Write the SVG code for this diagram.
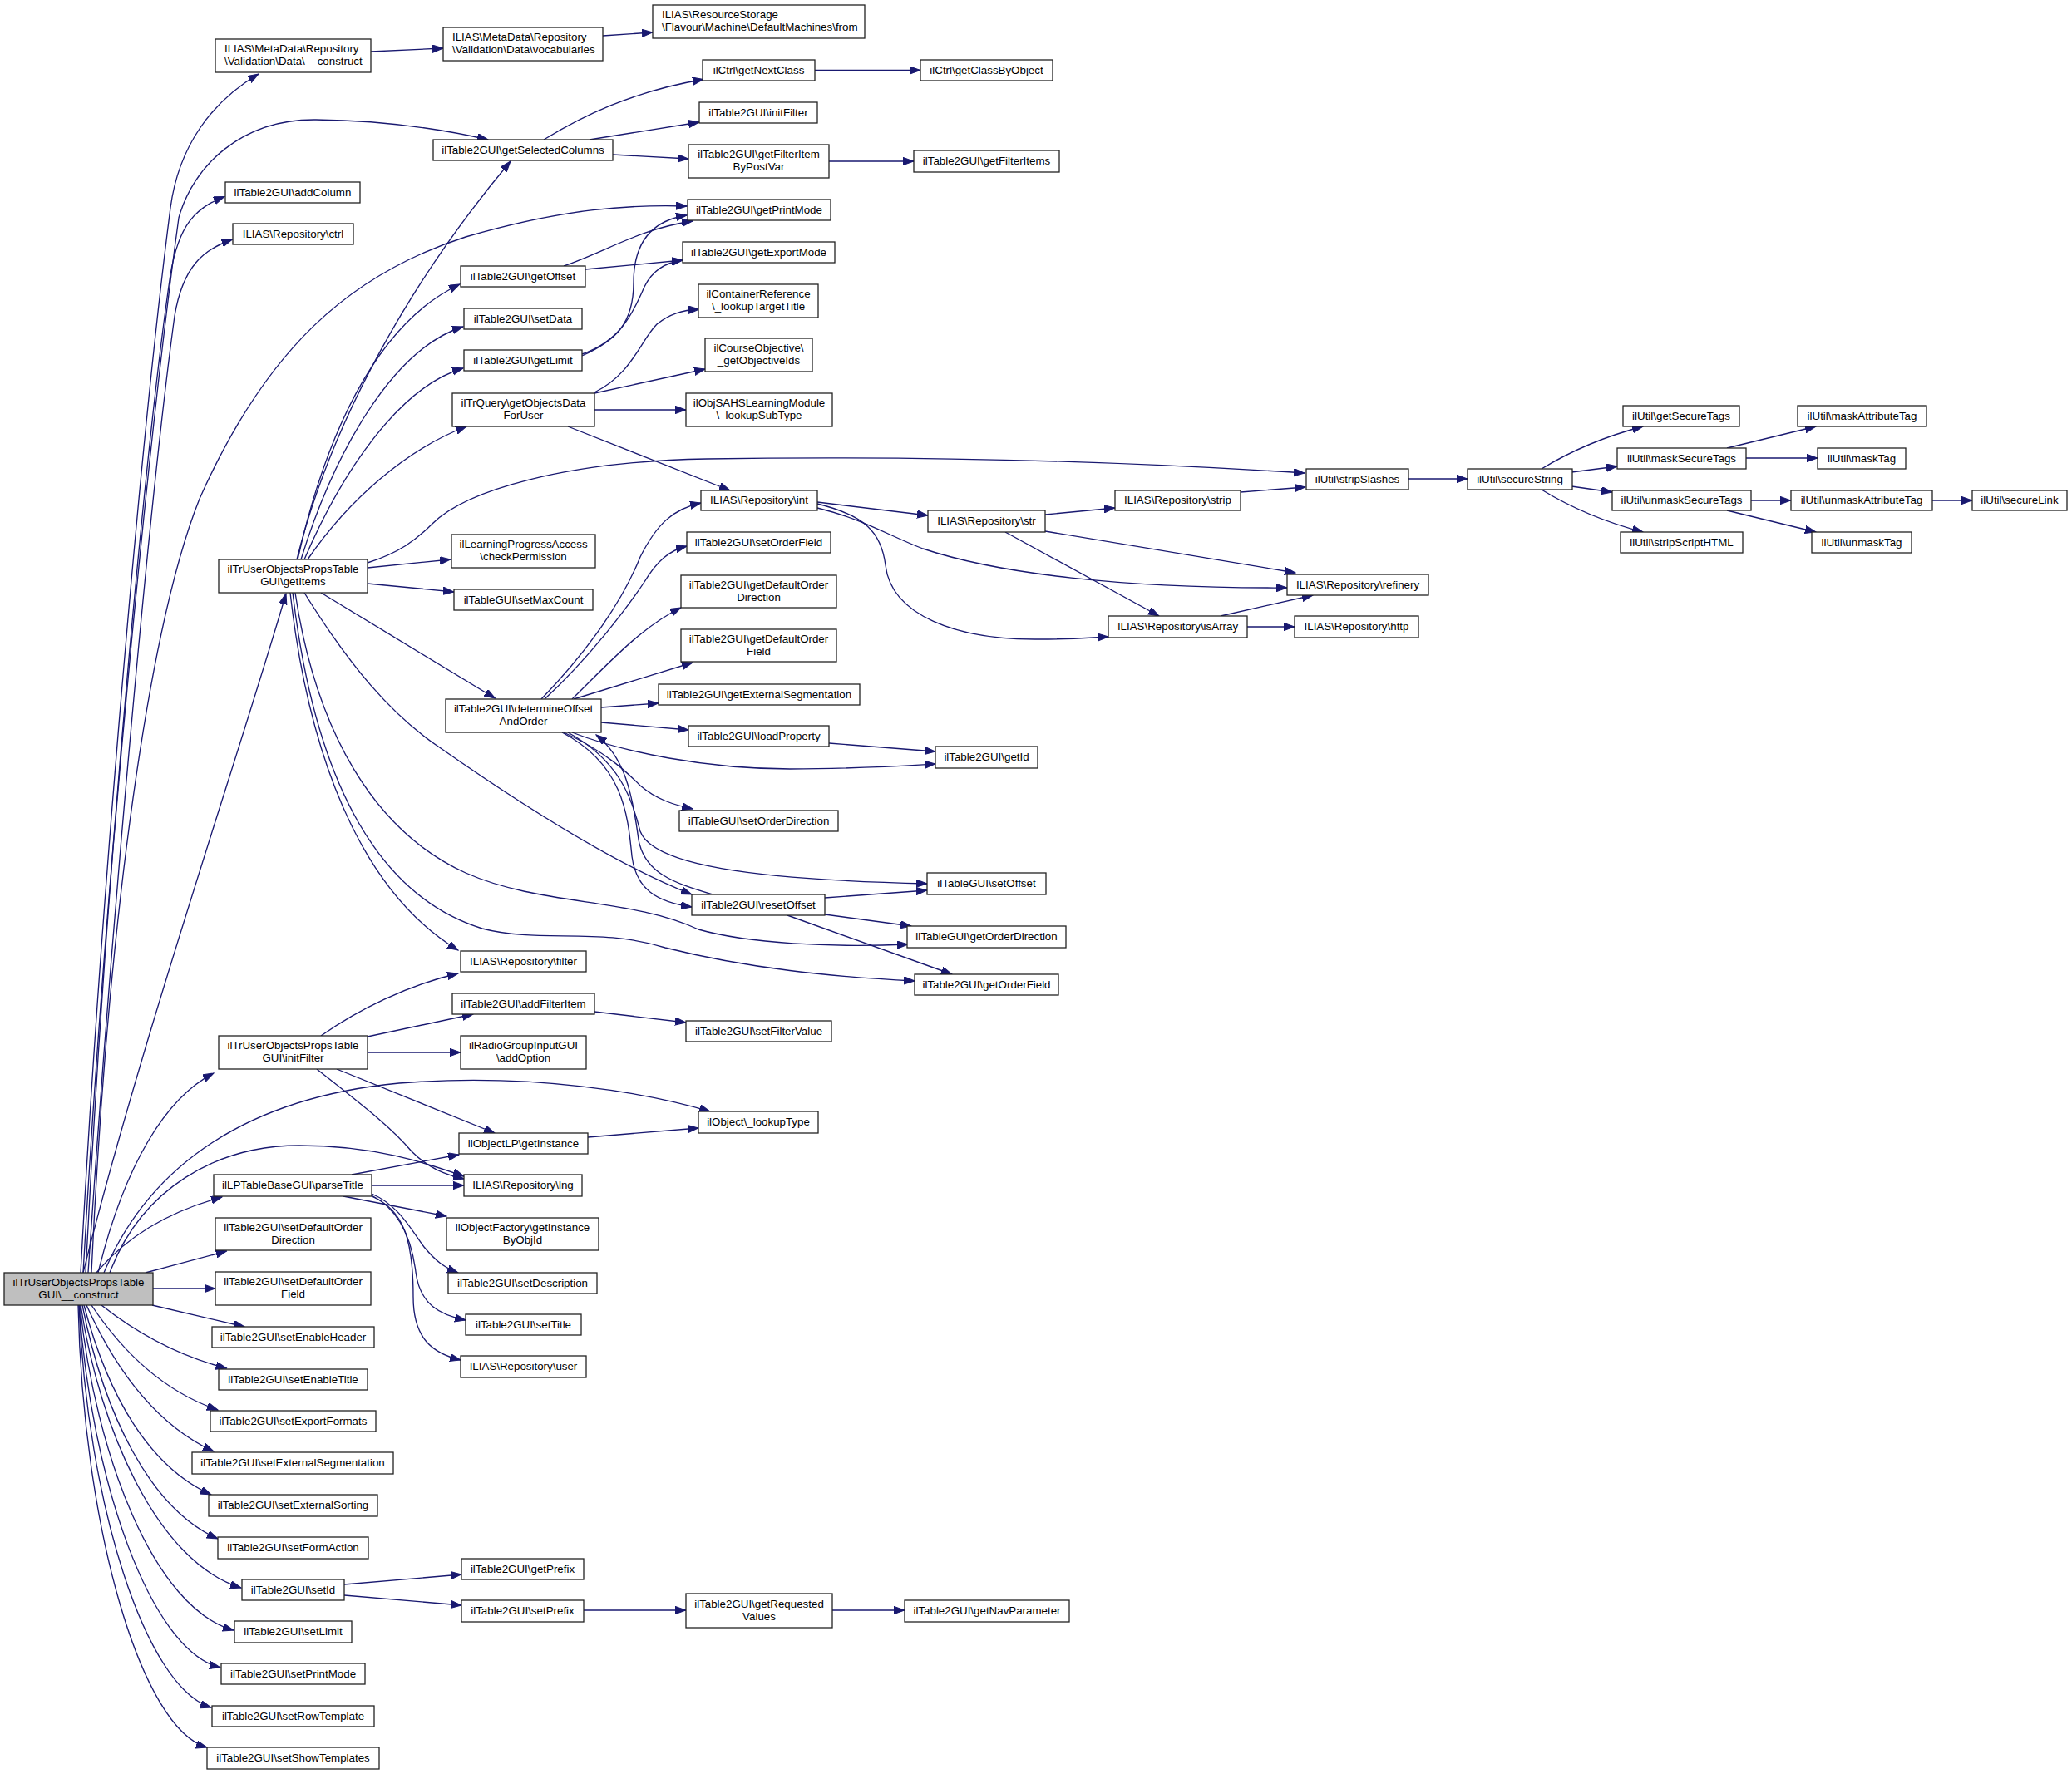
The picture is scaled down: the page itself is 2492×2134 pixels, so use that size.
<svg xmlns="http://www.w3.org/2000/svg" width="2492" height="2134" viewBox="0 0 2492 2134">
<style>
.node rect{fill:#fff;stroke:#222;stroke-width:1.3}
.node.root rect{fill:#bfbfbf}
.node text{font-family:"Liberation Sans",Arial,sans-serif;font-size:13.33px;fill:#000;text-anchor:middle}
.node text.l{text-anchor:start}
.edges path{fill:none;stroke:#191970;stroke-width:1.33;marker-end:url(#arr)}
</style>
<defs>
<marker id="arr" markerUnits="userSpaceOnUse" markerWidth="14" markerHeight="10" refX="13" refY="4.65" orient="auto">
<path d="M0,0 L13,4.65 L0,9.3 z" fill="#191970" stroke="#191970" stroke-width="1"/>
</marker>
</defs>
<rect width="2492" height="2134" fill="#fff"/>
<g class="edges">
<path d="M97,1531 C120,1100 170,520 205,250 C215,175 255,122 311,89"/>
<path d="M100,1531 C130,1000 185,480 215,262 C232,200 290,143 380,144 C460,145 530,155 587,168"/>
<path d="M103,1531 C130,1000 180,500 205,330 C215,270 235,250 270,236.5"/>
<path d="M106,1531 C135,1100 180,600 210,380 C220,320 245,300 279.5,288"/>
<path d="M110,1531 C130,1100 180,750 240,600 C320,420 420,330 560,285 C680,250 760,246 826,248"/>
<path d="M100,1531 C170,1250 290,900 344,714"/>
<path d="M118,1531 C150,1400 200,1320 257,1291"/>
<path d="M125,1531 C180,1400 300,1320 480,1303 C640,1290 780,1315 854,1337"/>
<path d="M132,1531 C170,1430 260,1378 360,1378 C450,1378 510,1398 558,1415"/>
<path d="M116,1531 C150,1490 200,1458 267,1440"/>
<path d="M175,1531 L272.6,1505"/>
<path d="M184,1550 L259,1550"/>
<path d="M183,1570 L294,1596"/>
<path d="M122,1570 C160,1600 210,1630 272.6,1646"/>
<path d="M110,1570 C150,1630 200,1675 262,1696"/>
<path d="M104,1570 C140,1650 190,1715 257,1746"/>
<path d="M101,1570 C130,1680 180,1765 254,1798"/>
<path d="M99,1570 C125,1700 180,1815 262,1851"/>
<path d="M97,1570 C120,1720 190,1880 290,1910"/>
<path d="M96,1570 C115,1750 185,1935 281,1961"/>
<path d="M95,1570 C110,1780 180,1985 265,2006"/>
<path d="M95,1570 C105,1810 175,2030 254,2054"/>
<path d="M94,1570 C100,1840 170,2080 249,2102"/>
<path d="M357,673 C400,500 500,330 614,194"/>
<path d="M358,673 C390,530 450,390 553,342"/>
<path d="M362,673 C400,550 470,420 557,393"/>
<path d="M366,673 C410,570 480,465 557,443"/>
<path d="M370,673 C420,600 490,540 561,513"/>
<path d="M442,677 C480,665 500,650 520,630 C560,590 680,555 850,552 C1100,548 1350,555 1569,569"/>
<path d="M442,683 L542,673"/>
<path d="M442,702 L546,712"/>
<path d="M386,713 L595.5,840"/>
<path d="M366,713 C420,800 470,860 530,900 C630,970 740,1040 832,1076"/>
<path d="M355,713 C380,880 450,1000 560,1050 C650,1090 760,1080 840,1118 C900,1135 1000,1140 1092,1136"/>
<path d="M352,713 C380,950 460,1080 580,1117 C650,1135 720,1115 800,1140 C900,1165 1000,1175 1100,1180"/>
<path d="M349,713 C370,900 430,1070 551,1143"/>
<path d="M678,320 C730,302 770,275 833,266"/>
<path d="M704,324 L821,313"/>
<path d="M700,428 C740,410 762,390 762,340 C762,290 785,265 826,259"/>
<path d="M700,426 C745,410 760,380 775,345 C785,325 800,316 821,313"/>
<path d="M715,472 C760,450 770,410 790,390 C805,378 820,373 841,372"/>
<path d="M715,473 L848,444"/>
<path d="M715,493 L825,493"/>
<path d="M683,513 L878,590"/>
<path d="M654,168 C700,140 760,110 846,95.5"/>
<path d="M709,168 L841,147"/>
<path d="M737,186 L828,191"/>
<path d="M980,84.5 L1107,84.5"/>
<path d="M997,194 L1099,194"/>
<path d="M446,62 L533,58"/>
<path d="M725,43 L785,39"/>
<path d="M983,604 L1116,620"/>
<path d="M983,611 C1040,625 1070,645 1110,660 C1200,690 1350,708 1548,707"/>
<path d="M983,606 C1040,620 1060,640 1065,680 C1072,740 1150,770 1250,769 C1290,769 1310,767 1333,766"/>
<path d="M1257,619 L1341,611"/>
<path d="M1257,639 L1558,689"/>
<path d="M1209,640 L1394,741"/>
<path d="M1492,592 L1570,586"/>
<path d="M1468,741 L1579,716"/>
<path d="M1500,754 L1557,754"/>
<path d="M1694,576 L1765,576"/>
<path d="M1854,564 C1890,542 1930,525 1976,513"/>
<path d="M1890,568 L1945,561"/>
<path d="M1890,585 L1939,592"/>
<path d="M1854,589 C1890,611 1930,628 1976,640"/>
<path d="M2077,539 L2184,513"/>
<path d="M2100,551 L2186,551"/>
<path d="M2106,602 L2154,602"/>
<path d="M2077,614 L2184,640"/>
<path d="M2324,602 L2372,602"/>
<path d="M651,841 C710,780 750,720 770,670 C790,630 810,612 843,605"/>
<path d="M655,841 C710,790 755,730 775,700 C790,675 805,662 826,657"/>
<path d="M688,841 C730,800 770,755 819,731"/>
<path d="M690,841 L833,797"/>
<path d="M723,851 L792,846"/>
<path d="M723,869 L828,878"/>
<path d="M688,881 C750,905 850,925 950,925 C1030,925 1090,921 1125,919"/>
<path d="M678,881 C730,905 755,930 770,945 C790,962 810,968 833,973"/>
<path d="M683,881 C745,915 760,960 770,1000 C785,1040 900,1058 1115,1063"/>
<path d="M676,881 C750,920 755,980 760,1030 C765,1070 790,1085 832,1091"/>
<path d="M857,1076 C810,1062 775,1050 768,1010 C760,950 750,910 717,884"/>
<path d="M992,1080 L1115,1071"/>
<path d="M992,1100 L1096,1114"/>
<path d="M947,1101 L1145,1172"/>
<path d="M997,894 L1125,904"/>
<path d="M386,1246 C430,1215 490,1185 551,1171"/>
<path d="M442,1247 L569,1220"/>
<path d="M442,1266 L554,1266"/>
<path d="M405,1286 L595,1363"/>
<path d="M381,1286 C430,1325 470,1355 495,1385 C515,1405 535,1413 558,1418"/>
<path d="M715,1217 L825,1230"/>
<path d="M707,1368 L840,1357"/>
<path d="M423,1413 L552,1389"/>
<path d="M447,1426 L558,1426"/>
<path d="M413,1439 L537,1463"/>
<path d="M447,1436 C480,1450 495,1480 510,1500 C525,1518 535,1525 551,1531"/>
<path d="M447,1438 C480,1455 495,1490 500,1530 C505,1570 530,1582 560,1588"/>
<path d="M447,1439 C485,1455 497,1490 497,1560 C497,1610 520,1628 554,1636"/>
<path d="M414,1906 L555,1894"/>
<path d="M414,1919 L555,1931"/>
<path d="M702,1937 L825,1937"/>
<path d="M1001,1937 L1088,1937"/>
</g>
<g id="n0" class="node root"><rect x="5" y="1531" width="179" height="39"/><text x="94.5" y="1546.5">ilTrUserObjectsPropsTable</text><text x="94.5" y="1561.5">GUI\__construct</text></g>
<g id="n1" class="node"><rect x="259" y="47" width="187" height="40"/><text class="l" x="270" y="63">ILIAS\MetaData\Repository</text><text class="l" x="270" y="78">\Validation\Data\__construct</text></g>
<g id="n2" class="node"><rect x="271" y="219" width="162" height="25"/><text x="352" y="235.5">ilTable2GUI\addColumn</text></g>
<g id="n3" class="node"><rect x="280" y="269" width="145" height="25"/><text x="352.5" y="285.5">ILIAS\Repository\ctrl</text></g>
<g id="n4" class="node"><rect x="263" y="673" width="179" height="40"/><text x="352.5" y="689">ilTrUserObjectsPropsTable</text><text x="352.5" y="704">GUI\getItems</text></g>
<g id="n5" class="node"><rect x="263" y="1246" width="179" height="40"/><text x="352.5" y="1262">ilTrUserObjectsPropsTable</text><text x="352.5" y="1277">GUI\initFilter</text></g>
<g id="n6" class="node"><rect x="257" y="1413" width="190" height="26"/><text x="352" y="1430">ilLPTableBaseGUI\parseTitle</text></g>
<g id="n7" class="node"><rect x="259" y="1465" width="187" height="39"/><text x="352.5" y="1480.5">ilTable2GUI\setDefaultOrder</text><text x="352.5" y="1495.5">Direction</text></g>
<g id="n8" class="node"><rect x="259" y="1530" width="187" height="40"/><text x="352.5" y="1546">ilTable2GUI\setDefaultOrder</text><text x="352.5" y="1561">Field</text></g>
<g id="n9" class="node"><rect x="255" y="1596" width="195" height="25"/><text x="352.5" y="1612.5">ilTable2GUI\setEnableHeader</text></g>
<g id="n10" class="node"><rect x="263" y="1647" width="179" height="25"/><text x="352.5" y="1663.5">ilTable2GUI\setEnableTitle</text></g>
<g id="n11" class="node"><rect x="253" y="1697" width="199" height="25"/><text x="352.5" y="1713.5">ilTable2GUI\setExportFormats</text></g>
<g id="n12" class="node"><rect x="231" y="1747" width="242" height="26"/><text x="352" y="1764">ilTable2GUI\setExternalSegmentation</text></g>
<g id="n13" class="node"><rect x="251" y="1798" width="203" height="26"/><text x="352.5" y="1815">ilTable2GUI\setExternalSorting</text></g>
<g id="n14" class="node"><rect x="262" y="1849" width="181" height="26"/><text x="352.5" y="1866">ilTable2GUI\setFormAction</text></g>
<g id="n15" class="node"><rect x="291" y="1900" width="123" height="25"/><text x="352.5" y="1916.5">ilTable2GUI\setId</text></g>
<g id="n16" class="node"><rect x="282" y="1950" width="141" height="26"/><text x="352.5" y="1967">ilTable2GUI\setLimit</text></g>
<g id="n17" class="node"><rect x="266" y="2001" width="173" height="25"/><text x="352.5" y="2017.5">ilTable2GUI\setPrintMode</text></g>
<g id="n18" class="node"><rect x="255" y="2052" width="195" height="25"/><text x="352.5" y="2068.5">ilTable2GUI\setRowTemplate</text></g>
<g id="n19" class="node"><rect x="249" y="2102" width="207" height="26"/><text x="352.5" y="2119">ilTable2GUI\setShowTemplates</text></g>
<g id="n20" class="node"><rect x="533" y="33" width="192" height="40"/><text class="l" x="544" y="49">ILIAS\MetaData\Repository</text><text class="l" x="544" y="64">\Validation\Data\vocabularies</text></g>
<g id="n21" class="node"><rect x="521" y="168" width="216" height="25"/><text x="629" y="184.5">ilTable2GUI\getSelectedColumns</text></g>
<g id="n22" class="node"><rect x="554" y="320" width="150" height="25"/><text x="629" y="336.5">ilTable2GUI\getOffset</text></g>
<g id="n23" class="node"><rect x="558" y="371" width="142" height="25"/><text x="629" y="387.5">ilTable2GUI\setData</text></g>
<g id="n24" class="node"><rect x="558" y="421" width="142" height="25"/><text x="629" y="437.5">ilTable2GUI\getLimit</text></g>
<g id="n25" class="node"><rect x="544" y="473" width="171" height="40"/><text x="629.5" y="489">ilTrQuery\getObjectsData</text><text x="629.5" y="504">ForUser</text></g>
<g id="n26" class="node"><rect x="543" y="643" width="173" height="40"/><text x="629.5" y="659">ilLearningProgressAccess</text><text x="629.5" y="674">\checkPermission</text></g>
<g id="n27" class="node"><rect x="546" y="709" width="167" height="25"/><text x="629.5" y="725.5">ilTableGUI\setMaxCount</text></g>
<g id="n28" class="node"><rect x="536" y="841" width="187" height="40"/><text x="629.5" y="857">ilTable2GUI\determineOffset</text><text x="629.5" y="872">AndOrder</text></g>
<g id="n29" class="node"><rect x="554" y="1144" width="151" height="25"/><text x="629.5" y="1160.5">ILIAS\Repository\filter</text></g>
<g id="n30" class="node"><rect x="544" y="1195" width="171" height="25"/><text x="629.5" y="1211.5">ilTable2GUI\addFilterItem</text></g>
<g id="n31" class="node"><rect x="554" y="1246" width="151" height="40"/><text x="629.5" y="1262">ilRadioGroupInputGUI</text><text x="629.5" y="1277">\addOption</text></g>
<g id="n32" class="node"><rect x="552" y="1363" width="155" height="25"/><text x="629.5" y="1379.5">ilObjectLP\getInstance</text></g>
<g id="n33" class="node"><rect x="558" y="1413" width="142" height="26"/><text x="629" y="1430">ILIAS\Repository\lng</text></g>
<g id="n34" class="node"><rect x="537" y="1465" width="183" height="39"/><text x="628.5" y="1480.5">ilObjectFactory\getInstance</text><text x="628.5" y="1495.5">ByObjId</text></g>
<g id="n35" class="node"><rect x="539" y="1531" width="179" height="25"/><text x="628.5" y="1547.5">ilTable2GUI\setDescription</text></g>
<g id="n36" class="node"><rect x="560" y="1581" width="139" height="25"/><text x="629.5" y="1597.5">ilTable2GUI\setTitle</text></g>
<g id="n37" class="node"><rect x="554" y="1631" width="151" height="26"/><text x="629.5" y="1648">ILIAS\Repository\user</text></g>
<g id="n38" class="node"><rect x="555" y="1875" width="147" height="25"/><text x="628.5" y="1891.5">ilTable2GUI\getPrefix</text></g>
<g id="n39" class="node"><rect x="555" y="1925" width="147" height="26"/><text x="628.5" y="1942">ilTable2GUI\setPrefix</text></g>
<g id="n40" class="node"><rect x="785" y="6" width="255" height="40"/><text class="l" x="796" y="22">ILIAS\ResourceStorage</text><text class="l" x="796" y="37">\Flavour\Machine\DefaultMachines\from</text></g>
<g id="n41" class="node"><rect x="845" y="72" width="135" height="25"/><text x="912.5" y="88.5">ilCtrl\getNextClass</text></g>
<g id="n42" class="node"><rect x="841" y="123" width="142" height="25"/><text x="912" y="139.5">ilTable2GUI\initFilter</text></g>
<g id="n43" class="node"><rect x="828" y="174" width="169" height="40"/><text x="912.5" y="190">ilTable2GUI\getFilterItem</text><text x="912.5" y="205">ByPostVar</text></g>
<g id="n44" class="node"><rect x="827" y="240" width="172" height="25"/><text x="913" y="256.5">ilTable2GUI\getPrintMode</text></g>
<g id="n45" class="node"><rect x="821" y="291" width="183" height="25"/><text x="912.5" y="307.5">ilTable2GUI\getExportMode</text></g>
<g id="n46" class="node"><rect x="840" y="342" width="144" height="40"/><text x="912" y="358">ilContainerReference</text><text x="912" y="373">\_lookupTargetTitle</text></g>
<g id="n47" class="node"><rect x="848" y="407" width="129" height="40"/><text x="912.5" y="423">ilCourseObjective\</text><text x="912.5" y="438">_getObjectiveIds</text></g>
<g id="n48" class="node"><rect x="825" y="473" width="176" height="40"/><text x="913" y="489">ilObjSAHSLearningModule</text><text x="913" y="504">\_lookupSubType</text></g>
<g id="n49" class="node"><rect x="843" y="590" width="140" height="24"/><text x="913" y="606">ILIAS\Repository\int</text></g>
<g id="n50" class="node"><rect x="826" y="640" width="173" height="25"/><text x="912.5" y="656.5">ilTable2GUI\setOrderField</text></g>
<g id="n51" class="node"><rect x="819" y="692" width="187" height="39"/><text x="912.5" y="707.5">ilTable2GUI\getDefaultOrder</text><text x="912.5" y="722.5">Direction</text></g>
<g id="n52" class="node"><rect x="819" y="757" width="187" height="39"/><text x="912.5" y="772.5">ilTable2GUI\getDefaultOrder</text><text x="912.5" y="787.5">Field</text></g>
<g id="n53" class="node"><rect x="792" y="823" width="242" height="25"/><text x="913" y="839.5">ilTable2GUI\getExternalSegmentation</text></g>
<g id="n54" class="node"><rect x="828" y="873" width="169" height="25"/><text x="912.5" y="889.5">ilTable2GUI\loadProperty</text></g>
<g id="n55" class="node"><rect x="817" y="975" width="191" height="25"/><text x="912.5" y="991.5">ilTableGUI\setOrderDirection</text></g>
<g id="n56" class="node"><rect x="832" y="1076" width="160" height="25"/><text x="912" y="1092.5">ilTable2GUI\resetOffset</text></g>
<g id="n57" class="node"><rect x="825" y="1228" width="175" height="25"/><text x="912.5" y="1244.5">ilTable2GUI\setFilterValue</text></g>
<g id="n58" class="node"><rect x="840" y="1337" width="144" height="26"/><text x="912" y="1354">ilObject\_lookupType</text></g>
<g id="n59" class="node"><rect x="825" y="1917" width="176" height="41"/><text x="913" y="1933.5">ilTable2GUI\getRequested</text><text x="913" y="1948.5">Values</text></g>
<g id="n60" class="node"><rect x="1107" y="72" width="159" height="25"/><text x="1186.5" y="88.5">ilCtrl\getClassByObject</text></g>
<g id="n61" class="node"><rect x="1099" y="181" width="175" height="26"/><text x="1186.5" y="198">ilTable2GUI\getFilterItems</text></g>
<g id="n62" class="node"><rect x="1116" y="614" width="141" height="26"/><text x="1186.5" y="631">ILIAS\Repository\str</text></g>
<g id="n63" class="node"><rect x="1125" y="898" width="123" height="26"/><text x="1186.5" y="915">ilTable2GUI\getId</text></g>
<g id="n64" class="node"><rect x="1115" y="1050" width="143" height="26"/><text x="1186.5" y="1067">ilTableGUI\setOffset</text></g>
<g id="n65" class="node"><rect x="1091" y="1114" width="191" height="26"/><text x="1186.5" y="1131">ilTableGUI\getOrderDirection</text></g>
<g id="n66" class="node"><rect x="1100" y="1172" width="173" height="25"/><text x="1186.5" y="1188.5">ilTable2GUI\getOrderField</text></g>
<g id="n67" class="node"><rect x="1088" y="1925" width="198" height="26"/><text x="1187" y="1942">ilTable2GUI\getNavParameter</text></g>
<g id="n68" class="node"><rect x="1341" y="590" width="151" height="24"/><text x="1416.5" y="606">ILIAS\Repository\strip</text></g>
<g id="n69" class="node"><rect x="1333" y="741" width="167" height="26"/><text x="1416.5" y="758">ILIAS\Repository\isArray</text></g>
<g id="n70" class="node"><rect x="1571" y="564" width="123" height="25"/><text x="1632.5" y="580.5">ilUtil\stripSlashes</text></g>
<g id="n71" class="node"><rect x="1548" y="691" width="170" height="25"/><text x="1633" y="707.5">ILIAS\Repository\refinery</text></g>
<g id="n72" class="node"><rect x="1557" y="741" width="149" height="26"/><text x="1631.5" y="758">ILIAS\Repository\http</text></g>
<g id="n73" class="node"><rect x="1765" y="564" width="126" height="25"/><text x="1828" y="580.5">ilUtil\secureString</text></g>
<g id="n74" class="node"><rect x="1952" y="488" width="140" height="25"/><text x="2022" y="504.5">ilUtil\getSecureTags</text></g>
<g id="n75" class="node"><rect x="1945" y="539" width="155" height="25"/><text x="2022.5" y="555.5">ilUtil\maskSecureTags</text></g>
<g id="n76" class="node"><rect x="1939" y="590" width="167" height="24"/><text x="2022.5" y="606">ilUtil\unmaskSecureTags</text></g>
<g id="n77" class="node"><rect x="1949" y="640" width="147" height="25"/><text x="2022.5" y="656.5">ilUtil\stripScriptHTML</text></g>
<g id="n78" class="node"><rect x="2162" y="488" width="155" height="25"/><text x="2239.5" y="504.5">ilUtil\maskAttributeTag</text></g>
<g id="n79" class="node"><rect x="2186" y="539" width="106" height="25"/><text x="2239" y="555.5">ilUtil\maskTag</text></g>
<g id="n80" class="node"><rect x="2154" y="590" width="170" height="24"/><text x="2239" y="606">ilUtil\unmaskAttributeTag</text></g>
<g id="n81" class="node"><rect x="2179" y="640" width="120" height="25"/><text x="2239" y="656.5">ilUtil\unmaskTag</text></g>
<g id="n82" class="node"><rect x="2372" y="590" width="114" height="24"/><text x="2429" y="606">ilUtil\secureLink</text></g>
</svg>
